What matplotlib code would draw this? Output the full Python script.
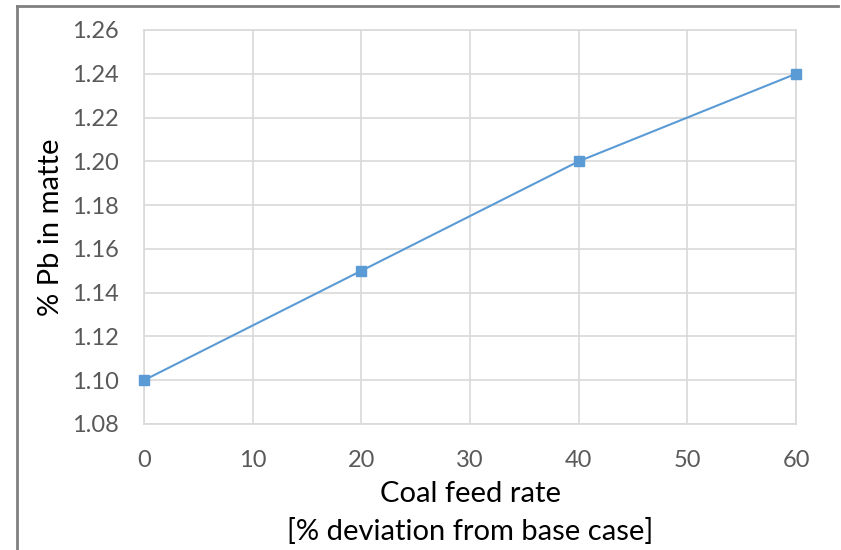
import matplotlib.pyplot as plt
from matplotlib.lines import Line2D

# coal feed deviation (%) vs lead content in matte
coal_dev = [0, 20, 40, 60]
pb_matte = [1.10, 1.15, 1.20, 1.24]
x_ticks = [0, 10, 20, 30, 40, 50, 60]
y_ticks = [1.08, 1.10, 1.12, 1.14, 1.16, 1.18, 1.20, 1.22, 1.24, 1.26]

plt.rcParams['font.family'] = ['Lato', 'DejaVu Sans']

fig = plt.figure(figsize=(8.41, 5.5), dpi=100)
ax = fig.add_axes([144 / 841, 1 - 424 / 550, 652 / 841, 394 / 550])

ax.plot(coal_dev, pb_matte, color='#5b9bd5', lw=1.5, marker='s', ms=7,
        markeredgecolor='#5b9bd5', markerfacecolor='#5b9bd5', zorder=3,
        clip_on=False)

ax.set_xlim(0, 60)
ax.set_ylim(1.08, 1.26)
ax.set_xticks(x_ticks)
ax.set_yticks(y_ticks)
ax.set_yticklabels([f'{v:.2f}' for v in y_ticks])
ax.grid(True, color='#d9d9d9', lw=1.2)
ax.set_axisbelow(True)
ax.tick_params(length=0, labelsize=17, labelcolor='#595959')
ax.tick_params(axis='y', pad=18)
ax.tick_params(axis='x', pad=19)
for s in ax.spines.values():
    s.set_color('#d9d9d9')
    s.set_linewidth(1.2)

ax.set_xlabel('Coal feed rate\n[% deviation from base case]', fontsize=21,
              linespacing=1.5, labelpad=7)
ax.set_ylabel('% Pb in matte', fontsize=21, labelpad=6)

# chart frame, left and top edges
fig.add_artist(Line2D([17 / 841, 17 / 841], [0, 1 - 6 / 550],
                      color='#808080', lw=2, transform=fig.transFigure))
fig.add_artist(Line2D([17 / 841, 838 / 841], [1 - 6 / 550, 1 - 6 / 550],
                      color='#808080', lw=2, transform=fig.transFigure))

fig.savefig('out.png', dpi=100)
